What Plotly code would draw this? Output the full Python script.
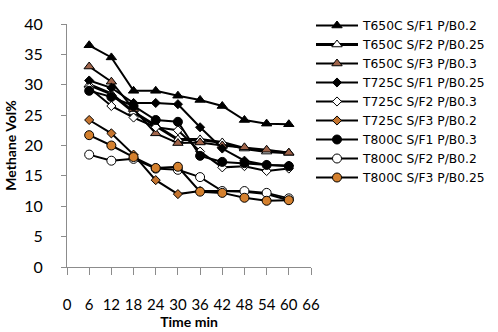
import plotly.graph_objects as go

time_min = [6, 12, 18, 24, 30, 36, 42, 48, 54, 60]

names = [
    "T650C S/F1 P/B0.2",
    "T650C S/F2 P/B0.25",
    "T650C S/F3 P/B0.3",
    "T725C S/F1 P/B0.25",
    "T725C S/F2 P/B0.3",
    "T725C S/F3 P/B0.2",
    "T800C S/F1 P/B0.3",
    "T800C S/F2 P/B0.2",
    "T800C S/F3 P/B0.25",
]

t650_f1 = [36.5, 34.5, 29.0, 29.0, 28.2, 27.5, 26.5, 24.2, 23.6, 23.5]
t650_f2 = [30.0, 28.5, 25.5, 23.3, 21.0, 21.0, 20.5, 19.5, 19.0, 18.8]
t650_f3 = [33.0, 30.5, 26.0, 22.0, 20.4, 20.5, 20.0, 19.7, 19.3, 18.8]
t725_f1 = [30.7, 29.5, 27.0, 27.0, 26.8, 23.0, 19.5, 17.5, 16.8, 16.7]
t725_f2 = [29.5, 26.5, 24.6, 23.0, 22.5, 19.0, 16.4, 16.6, 15.8, 16.2]
t725_f3 = [24.2, 22.0, 18.5, 14.3, 12.0, 12.5, 12.5, 12.4, 12.0, 11.0]
t800_f1 = [29.0, 28.0, 26.5, 24.2, 23.9, 18.3, 17.3, 17.1, 16.8, 16.6]
t800_f2 = [18.5, 17.5, 17.8, 16.2, 16.0, 14.8, 12.5, 12.5, 12.2, 11.3]
t800_f3 = [21.7, 20.0, 18.1, 16.3, 16.5, 12.4, 12.2, 11.4, 10.9, 11.0]

series = [t650_f1, t650_f2, t650_f3, t725_f1, t725_f2, t725_f3, t800_f1, t800_f2, t800_f3]

styles = [
    dict(symbol="triangle-up", size=9, color="black", lw=2),
    dict(symbol="triangle-up", size=9, color="white", lw=3),
    dict(symbol="triangle-up", size=9, color="#A0644A", lw=2),
    dict(symbol="diamond", size=7, color="black", lw=2),
    dict(symbol="diamond", size=7, color="white", lw=2),
    dict(symbol="diamond", size=7, color="#C4742F", lw=2),
    dict(symbol="circle", size=9, color="black", lw=2),
    dict(symbol="circle", size=9, color="white", lw=2),
    dict(symbol="circle", size=9, color="#D4802E", lw=2),
]

fig = go.Figure()
for name, ys, st in zip(names, series, styles):
    fig.add_trace(go.Scatter(
        x=time_min, y=ys, name=name, mode="lines+markers",
        line=dict(color="black", width=st["lw"]),
        marker=dict(symbol=st["symbol"], size=st["size"], color=st["color"],
                    line=dict(color="black", width=1)),
    ))

font_family = "Lato, 'Open Sans', sans-serif"
legend_family = "'DejaVu Sans', 'Open Sans', sans-serif"

fig.update_layout(
    width=498, height=332,
    margin=dict(l=67, r=176, t=24, b=65),
    paper_bgcolor="white", plot_bgcolor="white",
    font=dict(family=font_family, size=13, color="black"),
    showlegend=True,
    legend=dict(
        xref="container", yref="container",
        x=311 / 498, y=1 - 11 / 332, xanchor="left", yanchor="top",
        font=dict(size=12.3, family=legend_family),
        bgcolor="rgba(0,0,0,0)",
        tracegroupgap=0,
        itemwidth=42,
        maxheight=320,
    ),
    xaxis=dict(
        range=[0, 66], tickmode="array",
        tickvals=[0, 6, 12, 18, 24, 30, 36, 42, 48, 54, 60, 66],
        showgrid=False, zeroline=False, automargin=False,
        showline=True, linecolor="#8c8c8c", linewidth=1,
        ticks="outside", ticklen=7, tickcolor="#8c8c8c",
        ticklabelstandoff=17,
        tickfont=dict(size=15, family=font_family),
        title=dict(text="<b>Time min</b>", font=dict(size=14, family=font_family), standoff=5),
    ),
    yaxis=dict(
        range=[0, 40], tickmode="array",
        tickvals=[0, 5, 10, 15, 20, 25, 30, 35, 40],
        showgrid=False, zeroline=False, automargin=False,
        showline=True, linecolor="#8c8c8c", linewidth=1,
        ticks="outside", ticklen=5, tickcolor="#8c8c8c",
        ticklabelstandoff=15,
        tickfont=dict(size=16, family=font_family),
        title=dict(text="<b>Methane Vol%</b>", font=dict(size=14, family=font_family), standoff=4),
    ),
)

fig.write_html("out.html")
